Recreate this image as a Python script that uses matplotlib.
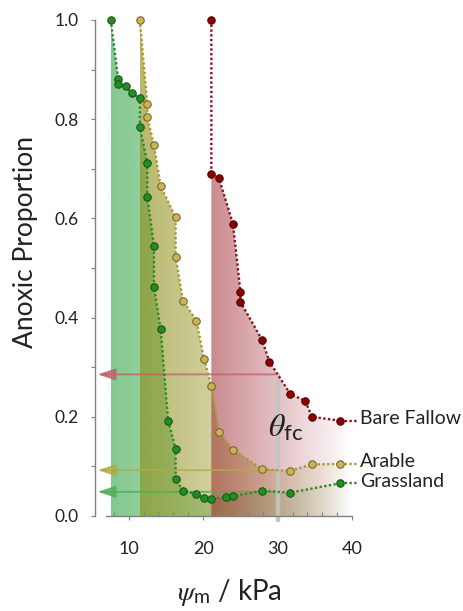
import numpy as np
import matplotlib
matplotlib.use('Agg')
import matplotlib.pyplot as plt

# ---------------- data ----------------
grass_x = [7.6, 8.6, 8.6, 9.6, 10.5, 11.5, 11.5, 12.5, 12.5, 13.4, 13.4, 14.3,
           15.3, 16.3, 16.3, 17.3, 19.1, 20.1, 21.1, 23.1, 24.0, 27.9, 31.6, 38.4]
grass_y = [1.0, 0.881, 0.871, 0.866, 0.852, 0.843, 0.784, 0.712, 0.644, 0.544, 0.462, 0.376,
           0.192, 0.136, 0.074, 0.051, 0.044, 0.036, 0.034, 0.039, 0.040, 0.051, 0.047, 0.066]

arable_x = [11.5, 12.5, 12.5, 13.4, 14.3, 16.3, 16.3, 17.3, 19.1, 20.1, 21.1,
            22.1, 24.0, 27.9, 31.7, 34.6, 38.4]
arable_y = [1.0, 0.831, 0.805, 0.747, 0.665, 0.602, 0.523, 0.434, 0.394, 0.317, 0.263,
            0.170, 0.134, 0.094, 0.091, 0.104, 0.105]

bare_x = [21.1, 21.1, 22.1, 24.0, 25.0, 25.0, 27.9, 28.9, 31.7, 33.7, 34.6, 38.4]
bare_y = [1.0, 0.690, 0.682, 0.589, 0.452, 0.432, 0.355, 0.311, 0.246, 0.232, 0.200, 0.192]

series_names = ['Grassland', 'Arable', 'Bare Fallow']
theta_fc = 30.0

yticks = [0.0, 0.2, 0.4, 0.6, 0.8, 1.0]
xticks = [10, 20, 30, 40]

# ---------------- style ----------------
plt.rcParams['font.family'] = ['Lato', 'DejaVu Sans']
plt.rcParams['mathtext.fontset'] = 'stix'

XMIN, XMAX = 5.5, 40.0
fig = plt.figure(figsize=(4.64, 6.11), dpi=100)
ax = fig.add_axes([0.205, 0.1555, 0.554, 0.8118])

styles = {
    'Grassland':   dict(line='#2b8a2b', face='#1f8f1f', edge='#1a4a1a',
                        fill=(40/255, 160/255, 60/255), a0=0.58, arrow='#4fae55'),
    'Arable':      dict(line='#a89a30', face='#c9b356', edge='#6b5e20',
                        fill=(140/255, 140/255, 20/255), a0=0.62, arrow='#b3aa45'),
    'Bare Fallow': dict(line='#8b1020', face='#8b0000', edge='#4a0000',
                        fill=(150/255, 20/255, 30/255), a0=0.50, arrow='#c0606e'),
}
data = {'Grassland': (grass_x, grass_y), 'Arable': (arable_x, arable_y),
        'Bare Fallow': (bare_x, bare_y)}


def grad_fill(x, y, color, a0, z):
    xf = list(x) + [XMAX]
    yf = list(y) + [y[-1]]
    poly = ax.fill_between(xf, yf, 0, facecolor='none', edgecolor='none')
    path = poly.get_paths()[0]
    n = 256
    rgba = np.zeros((1, n, 4))
    rgba[..., :3] = color
    rgba[0, :, 3] = np.linspace(a0, 0.0, n)
    im = ax.imshow(rgba, extent=(x[0], XMAX, 0, 1), aspect='auto', origin='lower',
                   interpolation='bilinear', zorder=z)
    im.set_clip_path(path, ax.transData)


for i, name in enumerate(series_names):
    x, y = data[name]
    st = styles[name]
    grad_fill(x, y, st['fill'], st['a0'], 1 + i * 0.1)

# arrows and theta_fc line
y_int = {}
for name in series_names:
    x, y = data[name]
    y_int[name] = float(np.interp(theta_fc, x, y))

for name in series_names:
    st = styles[name]
    yi = y_int[name]
    ax.annotate('', xy=(5.84, yi), xytext=(theta_fc, yi),
                arrowprops=dict(arrowstyle='-|>,head_length=0.9,head_width=0.3',
                                color=st['arrow'], lw=1.3, alpha=0.8,
                                shrinkA=0, shrinkB=0, mutation_scale=12),
                annotation_clip=False, zorder=3)

ax.plot([theta_fc, theta_fc], [-0.012, y_int['Bare Fallow']], color='#c4c4c4',
        lw=3.2, alpha=0.9, zorder=3.5, clip_on=False, solid_capstyle='butt')

ax.text(28.7, 0.16, r'$\theta_{\mathregular{fc}}$', fontsize=23, ha='left',
        va='baseline', zorder=6, color='#222222')

# lines and markers
for name in series_names:
    x, y = data[name]
    st = styles[name]
    ax.plot(x, y, linestyle=(0, (1, 1)), lw=1.7, color=st['line'], zorder=4,
            clip_on=False, dash_capstyle='butt')
    ax.plot(x, y, linestyle='none', marker='o', ms=5.4, mfc=st['face'],
            mec=st['edge'], mew=0.7, zorder=5, clip_on=False)
    # label leader
    ax.plot([x[-1], 40.6], [y[-1], y[-1]], linestyle=(0, (1, 1)), lw=1.7,
            color=st['line'], zorder=4, clip_on=False, dash_capstyle='butt')

for name in series_names:
    ax.text(41.0, data[name][1][-1] + 0.004, name, fontsize=14, ha='left',
            va='center', color='#222222', clip_on=False)

# axes
ax.set_xlim(XMIN, XMAX)
ax.set_ylim(0, 1)
for s in ['top', 'right']:
    ax.spines[s].set_visible(False)
ax.spines['left'].set_bounds(0, 1)
ax.spines['bottom'].set_bounds(7, 40)
for s in ['left', 'bottom']:
    ax.spines[s].set_color('#808080')
    ax.spines[s].set_linewidth(1.0)
    ax.spines[s].set_zorder(6)

ax.set_yticks(yticks)
ax.set_yticklabels([f'{v:.1f}' for v in yticks])
ax.set_yticks(np.arange(0.1, 1.0, 0.2), minor=True)
ax.set_xticks(xticks)
ax.set_xticklabels([str(v) for v in xticks])
ax.set_xticks(np.arange(8, 40, 2), minor=True)

ax.tick_params(axis='y', which='both', direction='out', length=3, width=0.8,
               color='#808080', labelsize=12.5, pad=9, labelcolor='#222222')
ax.tick_params(axis='x', which='major', direction='out', length=3, width=0.8,
               color='#808080', labelsize=13, pad=15, labelcolor='#222222')
ax.tick_params(axis='x', which='minor', direction='in', length=3, width=0.8,
               color='#808080')

ax.set_ylabel('Anoxic Proportion', fontsize=19, color='#222222')
ax.yaxis.set_label_coords(-0.222, 0.552)

fig.text(229 / 464, 0.018, r'$\psi_{\mathregular{m}}$ / kPa', fontsize=20,
         ha='center', va='baseline', color='#222222')

fig.savefig('out.png', dpi=100)
